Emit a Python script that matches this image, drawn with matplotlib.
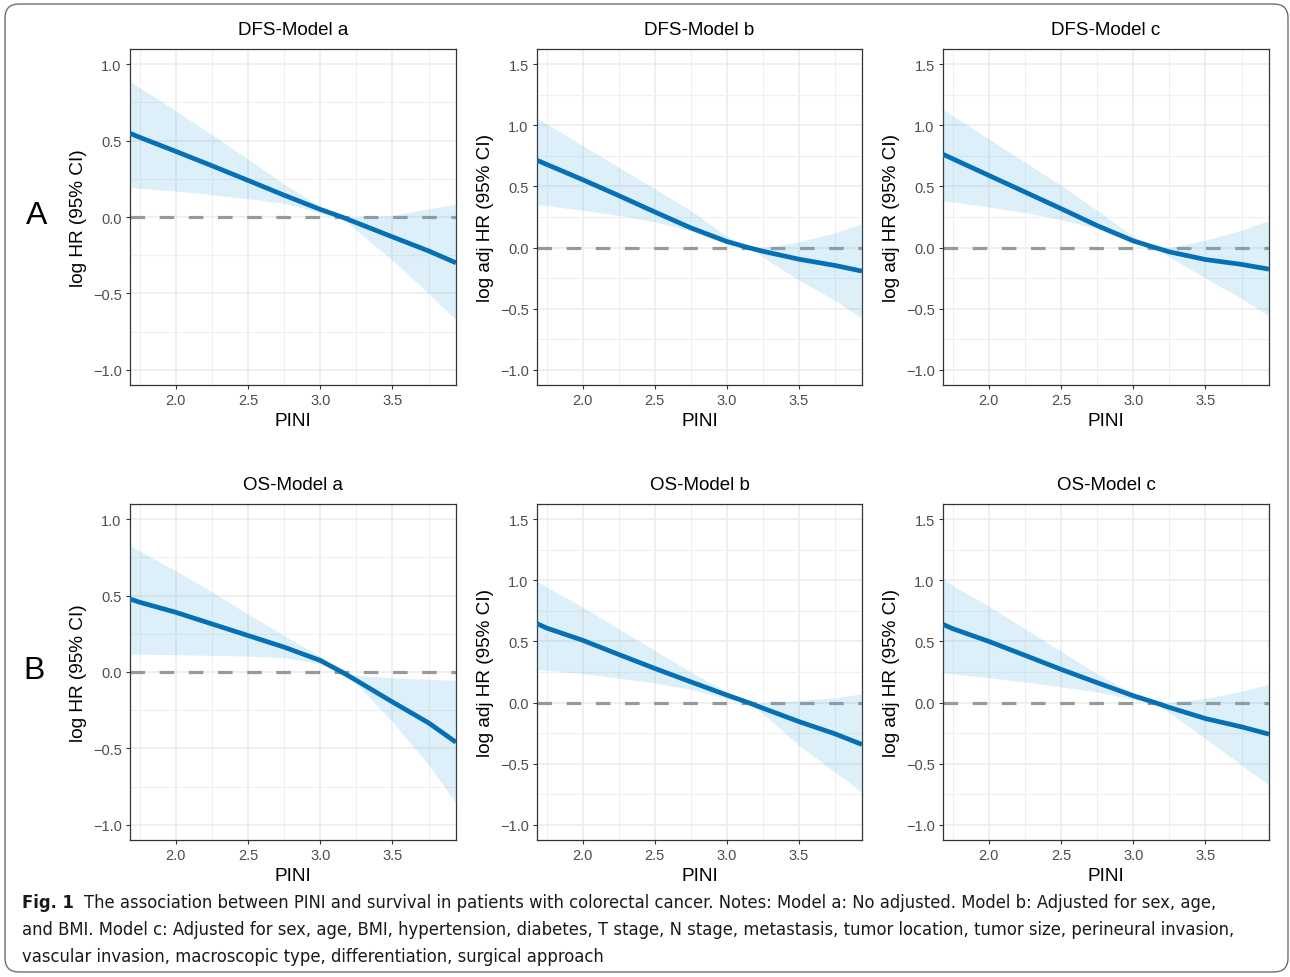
import numpy as np
import matplotlib.pyplot as plt
from matplotlib import font_manager
from matplotlib.font_manager import FontProperties
from matplotlib.patches import FancyBboxPatch
from matplotlib.transforms import IdentityTransform
from matplotlib.ticker import MultipleLocator

plt.rcParams['font.family'] = ['Liberation Sans', 'DejaVu Sans']
plt.rcParams['lines.scale_dashes'] = False

pini = [1.684, 1.75, 2.0, 2.25, 2.5, 2.75, 3.0, 3.15, 3.25, 3.5, 3.75, 3.94]

# DFS models: estimate, lower and upper 95% CI (log HR)
dfs_a_est = [0.548, 0.522, 0.43, 0.336, 0.24, 0.143, 0.05, 0.0, -0.037, -0.13, -0.222, -0.30]
dfs_a_lo = [0.196, 0.187, 0.17, 0.146, 0.12, 0.09, 0.028, 0.0, -0.087, -0.283, -0.50, -0.674]
dfs_a_hi = [0.89, 0.848, 0.696, 0.54, 0.38, 0.217, 0.07, 0.0, 0.0, 0.01, 0.054, 0.083]

dfs_b_est = [0.714, 0.681, 0.556, 0.426, 0.292, 0.162, 0.05, 0.0, -0.03, -0.095, -0.146, -0.193]
dfs_b_lo = [0.351, 0.343, 0.305, 0.264, 0.21, 0.136, 0.033, 0.0, -0.076, -0.267, -0.43, -0.58]
dfs_b_hi = [1.06, 1.013, 0.836, 0.659, 0.482, 0.305, 0.093, 0.0, 0.0, 0.046, 0.12, 0.196]

dfs_c_est = [0.763, 0.727, 0.591, 0.455, 0.319, 0.18, 0.055, 0.0, -0.035, -0.098, -0.138, -0.177]
dfs_c_lo = [0.381, 0.373, 0.332, 0.286, 0.229, 0.155, 0.038, 0.0, -0.076, -0.25, -0.417, -0.56]
dfs_c_hi = [1.13, 1.08, 0.89, 0.70, 0.51, 0.305, 0.093, 0.0, 0.0, 0.06, 0.142, 0.223]

# OS models
os_a_est = [0.478, 0.457, 0.391, 0.315, 0.239, 0.163, 0.076, 0.0, -0.055, -0.196, -0.333, -0.46]
os_a_lo = [0.12, 0.117, 0.113, 0.109, 0.104, 0.093, 0.054, 0.0, -0.076, -0.326, -0.609, -0.859]
os_a_hi = [0.83, 0.793, 0.663, 0.526, 0.38, 0.239, 0.104, 0.0, -0.022, -0.037, -0.048, -0.054]

os_b_est = [0.646, 0.61, 0.51, 0.394, 0.28, 0.17, 0.062, 0.0, -0.045, -0.155, -0.255, -0.343]
os_b_lo = [0.272, 0.264, 0.237, 0.2, 0.16, 0.109, 0.033, 0.0, -0.09, -0.349, -0.567, -0.736]
os_b_hi = [0.995, 0.946, 0.782, 0.605, 0.428, 0.251, 0.087, 0.0, 0.0, 0.015, 0.04, 0.071]

os_c_est = [0.64, 0.605, 0.501, 0.387, 0.272, 0.163, 0.056, 0.0, -0.04, -0.131, -0.199, -0.259]
os_c_lo = [0.242, 0.234, 0.204, 0.169, 0.128, 0.087, 0.027, 0.0, -0.085, -0.294, -0.512, -0.676]
os_c_hi = [1.014, 0.959, 0.79, 0.605, 0.42, 0.237, 0.074, 0.0, 0.0, 0.033, 0.093, 0.15]

titles = ['DFS-Model a', 'DFS-Model b', 'DFS-Model c',
          'OS-Model a', 'OS-Model b', 'OS-Model c']
ylabels = ['log HR (95% CI)', 'log adj HR (95% CI)', 'log adj HR (95% CI)']
xticks = [2.0, 2.5, 3.0, 3.5]
xtick_labels = ['2.0', '2.5', '3.0', '3.5']
yticks_a = [-1.0, -0.5, 0.0, 0.5, 1.0]
yticks_bc = [-1.0, -0.5, 0.0, 0.5, 1.0, 1.5]
row_letters = ['A', 'B']

panels = [
    (dfs_a_est, dfs_a_lo, dfs_a_hi), (dfs_b_est, dfs_b_lo, dfs_b_hi), (dfs_c_est, dfs_c_lo, dfs_c_hi),
    (os_a_est, os_a_lo, os_a_hi), (os_b_est, os_b_lo, os_b_hi), (os_c_est, os_c_lo, os_c_hi),
]

W, H = 1290, 978
fig = plt.figure(figsize=(W / 100, H / 100), dpi=100)

# rounded frame around the whole figure
frame = FancyBboxPatch((5, 5), 1283, 968, boxstyle='round,pad=0,rounding_size=14',
                       transform=IdentityTransform(), fill=False, ec='#6e6e6e', lw=1.0)
fig.patches.append(frame)

col_x = [(130, 456), (537, 862), (943, 1269)]
row_y = [(50, 386), (505, 841)]

line_col = '#0570b5'
band_col = '#56B4E9'

for i, (est, lo, hi) in enumerate(panels):
    r, c = divmod(i, 3)
    x0, x1 = col_x[c]
    y0, y1 = row_y[r]
    ax = fig.add_axes([x0 / W, 1 - y1 / H, (x1 - x0) / W, (y1 - y0) / H])

    ax.axhline(0, color='#999999', lw=2.3, dashes=(10.5, 10.5), zorder=2)
    ax.fill_between(pini, lo, hi, color=band_col, alpha=0.2, lw=0, zorder=3)
    ax.plot(pini, est, color=line_col, lw=3.4, solid_capstyle='butt',
            solid_joinstyle='round', zorder=4)

    ax.set_xlim(1.684, 3.94)
    if c == 0:
        ax.set_ylim(-1.1, 1.1)
        yt = yticks_a
    else:
        ax.set_ylim(-1.125, 1.625)
        yt = yticks_bc
    ax.set_xticks(xticks)
    ax.set_xticklabels(xtick_labels)
    ax.set_yticks(yt)
    ax.set_yticklabels([f'{v:.1f}'.replace('-', '\u2212') for v in yt])
    ax.xaxis.set_minor_locator(MultipleLocator(0.25))
    ax.yaxis.set_minor_locator(MultipleLocator(0.25))

    ax.grid(which='major', color='#EBEBEB', lw=1.1, zorder=0)
    ax.grid(which='minor', color='#F0F0F0', lw=0.8, zorder=0)
    ax.set_axisbelow(True)
    ax.tick_params(which='major', length=3, width=0.8, color='#333333',
                   labelsize=10.5, labelcolor='#4d4d4d', pad=3)
    ax.tick_params(which='minor', length=0)
    for s in ax.spines.values():
        s.set_color('#333333')
        s.set_linewidth(0.9)

    ax.set_title(titles[i], fontsize=13.5, pad=10.5)
    ax.set_xlabel('PINI', fontsize=13.7, labelpad=3.5)
    ax.set_ylabel(ylabels[c], fontsize=13.7, labelpad=4)

fig.text(37 / W, 1 - 216 / H, row_letters[0], fontsize=23, ha='center', va='center')
fig.text(34 / W, 1 - 671 / H, row_letters[1], fontsize=23, ha='center', va='center')

# caption: prefer a condensed face if one is installed
def pick_caption_font(weight):
    want = 'bold' if weight == 'bold' else 'normal'
    best = None
    for f in font_manager.fontManager.ttflist:
        cond = ('Narrow' in f.name or 'Condensed' in f.name
                or f.stretch in ('condensed', 'semi-condensed'))
        if not cond or f.style != 'normal':
            continue
        is_bold = f.weight in ('bold', 700, 'semibold', 600, 'demibold')
        if (want == 'bold') == is_bold:
            best = f.fname
            if 'Liberation' in f.name or 'DejaVu' in f.name:
                break
    if best:
        return FontProperties(fname=best)
    return FontProperties(family='Liberation Sans', weight=want)

cap_reg = pick_caption_font('normal')
cap_bold = pick_caption_font('bold')
cap_lines = [
    'The association between PINI and survival in patients with colorectal cancer. Notes: Model a: No adjusted. Model b: Adjusted for sex, age,',
    'and BMI. Model c: Adjusted for sex, age, BMI, hypertension, diabetes, T stage, N stage, metastasis, tumor location, tumor size, perineural invasion,',
    'vascular invasion, macroscopic type, differentiation, surgical approach',
]
cap_color = '#1a1a1a'
renderer = fig.canvas.get_renderer()

# size the caption so that the full second line spans the same width as in the figure
probe = fig.text(22 / W, 1 - 930 / H, cap_lines[1], fontproperties=cap_reg, fontsize=13,
                 va='center', color=cap_color)
w = probe.get_window_extent(renderer).width
cap_size = min(13.5, 13 * 1215 / w)
probe.set_fontsize(cap_size)

fig_lbl = fig.text(22 / W, 1 - 903 / H, 'Fig. 1', fontproperties=cap_bold, fontsize=cap_size,
                   va='center', color=cap_color)
lbl_end = fig_lbl.get_window_extent(renderer).x1
fig.text((lbl_end + 10) / W, 1 - 903 / H, cap_lines[0], fontproperties=cap_reg,
         fontsize=cap_size, va='center', color=cap_color)
fig.text(22 / W, 1 - 957 / H, cap_lines[2], fontproperties=cap_reg, fontsize=cap_size,
         va='center', color=cap_color)

fig.savefig('out.png', dpi=100)
